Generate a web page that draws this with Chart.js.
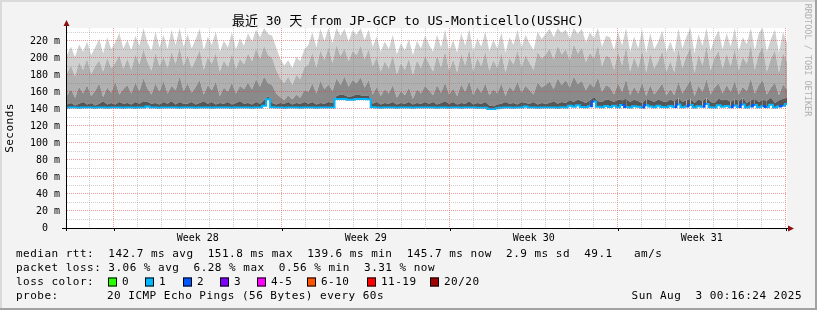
<!DOCTYPE html>
<html lang="zh">
<head>
<meta charset="UTF-8">
<title>SmokePing - JP-GCP to US-Monticello</title>
<script src="https://cdn.jsdelivr.net/npm/chart.js@4"></script>
<style>
  html, body { margin: 0; padding: 0; background: #f3f3f3; }
  canvas { display: block; }
</style>
</head>
<body>
<canvas id="smoke" width="817" height="310"></canvas>
<script>
// 30 days, one sample every 4 hours (ms)
const spanHours = 720;

const medianRtt = [
  141.4,141.6,141.5,141.3,141.6,141.5,141.7,141.4,141.5,141.6,141.4,141.5,141.6,141.5,141.4,
  141.5,141.6,141.4,141.5,141.7,142.8,141.6,141.5,141.4,141.6,141.5,141.5,141.7,141.4,141.5,
  141.6,141.5,141.4,141.5,141.6,141.5,141.4,141.7,141.5,141.5,141.6,141.4,141.5,141.6,141.5,
  141.5,141.4,141.6,141.5,143.5,151.2,142.0,141.5,141.6,141.4,141.5,141.6,141.5,141.4,141.5,
  141.5,141.6,141.4,141.5,141.5,141.6,141.5,151.6,151.5,151.6,150.6,150.7,151.5,151.6,151.5,
  151.4,141.8,141.5,141.4,141.5,141.6,141.5,141.4,141.6,141.5,141.5,141.4,141.6,141.5,141.5,
  141.5,141.6,141.4,141.5,141.5,141.4,141.6,141.5,141.4,141.5,141.6,141.5,141.4,141.3,141.2,
  139.8,139.7,140.6,141.3,141.5,141.6,141.4,141.5,141.7,142.8,141.6,141.5,141.4,141.6,141.5,
  141.5,141.6,141.4,141.8,141.5,143.6,142.4,144.1,142.2,141.8,143.2,148.5,142.6,141.9,143.4,
  142.1,143.5,141.8,144.6,142.3,141.7,143.1,142.5,141.6,144.2,142.8,141.9,143.7,142.2,141.8,
  143.4,142.1,145.2,141.8,142.9,144.5,141.6,143.2,142.4,145.6,142.0,141.7,144.1,142.6,143.3,
  141.9,143.8,142.3,145.1,141.6,142.7,144.4,141.8,143.0,142.2,144.9,141.7,142.8,143.6,145.7
];

// lost pings out of 20 for each sample
const lostPings = [
  1,1,1,1,1,1,1,1,1,1,1,1,1,1,1,
  1,1,1,1,1,1,1,1,1,1,1,1,1,1,1,
  1,1,1,1,1,1,1,1,1,1,1,1,1,1,1,
  1,1,1,1,1,1,1,1,1,1,1,1,1,1,1,
  1,1,1,1,1,1,1,1,1,1,1,1,1,1,1,
  1,1,1,1,1,1,1,1,1,1,1,1,1,1,1,
  1,1,1,1,1,1,1,1,1,1,1,1,1,1,1,
  1,1,1,1,1,1,1,1,1,1,1,1,1,1,1,
  1,1,1,1,1,1,1,1,1,1,1,2,1,1,1,
  1,1,1,1,2,1,1,1,1,2,1,1,1,1,1,
  1,1,2,1,1,2,1,1,1,2,1,1,1,1,1,
  1,2,1,2,1,1,2,1,1,2,1,1,1,2,1
];

// smoke: upper edge of each grey band (darkest to lightest)
const smokeCore = [
  145,147,144,146,148,145,147,144,146,149,145,147,145,148,146,
  147,145,148,146,149,148,146,147,145,148,146,149,145,148,146,
  146,148,145,147,149,146,148,145,147,146,148,145,147,149,146,
  147,145,148,146,150,155,147,145,147,146,148,145,147,146,148,
  146,148,145,147,146,148,147,155,157,156,154,155,157,156,155,
  156,146,148,145,147,146,148,145,147,146,148,145,147,146,148,
  146,148,145,147,149,146,148,145,147,146,149,145,147,146,148,
  144,143,145,146,148,146,147,145,148,147,146,148,145,147,146,
  147,149,146,148,147,150,148,151,149,147,150,154,149,148,151,
  150,148,151,150,152,148,151,149,147,152,150,148,151,149,148,
  151,149,153,148,150,152,147,151,149,153,148,147,152,150,151,
  148,152,149,153,147,150,152,148,151,149,153,147,150,152,153
];
const smokeDark = [
  156,163,153,166,158,168,155,161,170,154,165,159,172,157,163,
  168,158,171,161,176,164,157,170,160,173,158,167,162,178,161,
  170,159,166,174,157,168,162,172,155,165,160,171,158,167,163,
  171,163,175,166,178,170,168,158,154,150,156,151,157,153,162,
  160,170,158,173,163,169,161,176,168,178,166,174,170,177,165,
  174,157,166,155,163,158,168,153,161,156,165,152,163,158,167,
  162,156,168,159,171,157,164,155,169,160,173,156,166,159,170,
  156,163,158,170,155,166,161,172,159,167,162,157,171,165,168,
  172,163,176,168,174,165,178,169,173,162,170,165,177,160,168,
  165,157,170,160,175,156,166,158,171,155,168,157,163,170,156,
  163,156,172,158,166,174,155,167,160,175,157,165,170,158,168,
  160,173,157,166,161,176,158,168,174,157,165,171,156,169,163
];
const smokeMid = [
  182,191,178,195,186,199,181,190,197,184,200,188,194,203,187,
  199,186,204,192,210,195,185,206,190,201,188,207,193,212,191,
  203,188,198,209,186,201,193,206,184,197,189,205,187,199,192,
  205,196,211,199,214,203,200,186,176,170,178,168,180,175,189,
  192,206,189,209,197,212,194,215,202,211,196,208,203,214,198,
  210,190,201,184,196,187,203,181,194,186,199,180,197,188,202,
  193,184,203,189,208,185,198,183,205,191,210,184,200,190,207,
  185,197,188,206,183,200,192,209,189,203,194,186,207,199,204,
  211,198,214,204,210,197,216,205,212,195,206,199,215,190,203,
  200,186,207,191,213,184,201,188,209,183,205,187,196,208,184,
  196,183,210,188,202,212,182,204,191,214,185,200,208,187,205,
  190,211,185,201,193,215,186,205,212,184,199,209,183,206,195
];
const smokeTop = [
  204,213,201,216,207,219,203,212,222,205,224,210,218,229,211,
  221,209,226,214,235,218,208,231,212,227,210,233,215,235,213,
  228,211,222,234,209,225,215,231,207,220,212,230,210,223,214,
  229,219,233,224,235,228,226,212,199,191,197,188,201,196,210,
  215,230,212,234,220,235,217,235,226,234,219,232,227,235,221,
  233,213,225,207,219,210,227,204,217,209,222,203,220,211,226,
  216,207,227,212,233,208,221,206,229,214,234,207,223,213,231,
  208,221,211,230,206,224,215,233,212,227,217,209,231,222,228,
  234,224,235,229,233,222,235,228,234,218,230,223,235,213,226,
  224,209,231,214,235,207,225,211,233,206,229,210,219,232,207,
  219,206,234,211,225,235,205,228,214,235,208,223,232,210,229,
  213,235,208,224,216,235,209,229,235,207,222,233,206,230,218
];

const yTickValues = [0, 20, 40, 60, 80, 100, 120, 140, 160, 180, 200, 220];
const yTickLabels = ['0', '20 m', '40 m', '60 m', '80 m', '100 m', '120 m', '140 m', '160 m', '180 m', '200 m', '220 m'];
const weekLineHours = [46.8, 214.8, 382.8, 550.8, 718.8];
const weekLabels = ['Week 28', 'Week 29', 'Week 30', 'Week 31'];

const medianStats = ['142.7 ms avg', '151.8 ms max', '139.6 ms min', '145.7 ms now', '2.9 ms sd', '49.1   am/s'];
const lossStats = ['3.06 % avg', '6.28 % max', '0.56 % min', '3.31 % now'];
const lossLabels = ['0', '1', '2', '3', '4-5', '6-10', '11-19', '20/20'];
const lossColors = ['#26ff00', '#00b8ff', '#0059ff', '#7e00ff', '#ff00ff', '#ff5500', '#ff0000', '#a10000'];

const titleText = '最近 30 天 from JP-GCP to US-Monticello(USSHC)';
const probeText = '20 ICMP Echo Pings (56 Bytes) every 60s';
const stampText = 'Sun Aug  3 00:16:24 2025';

function lossSlot(n) {
  if (n <= 3) return n;
  if (n <= 5) return 4;
  if (n <= 10) return 5;
  if (n <= 19) return 6;
  return 7;
}

function series(vals) {
  return vals.map((v, i) => ({ x: i * spanHours / (vals.length - 1), y: v }));
}

function band(vals, color) {
  return {
    data: series(vals),
    fill: '-1',
    backgroundColor: color,
    borderColor: 'rgba(0,0,0,0)',
    borderWidth: 0,
    pointRadius: 0,
    tension: 0
  };
}

const MONO = "'DejaVu Sans Mono', 'Noto Sans CJK SC', monospace";

const frame = {
  id: 'frame',
  beforeDraw(chart) {
    const c = chart.ctx, a = chart.chartArea;
    const W = chart.width, H = chart.height;
    c.save();
    c.fillStyle = '#f3f3f3';
    c.fillRect(0, 0, W, H);
    c.fillStyle = '#dadada';
    c.fillRect(0, 0, W, 2);
    c.fillRect(0, 0, 2, H);
    c.fillStyle = '#a2a2a2';
    c.fillRect(0, H - 2, W, 2);
    c.fillRect(W - 2, 0, 2, H);
    c.fillStyle = '#ffffff';
    c.fillRect(a.left, a.top, a.right - a.left, a.bottom - a.top);
    c.restore();
  },
  afterDraw(chart) {
    const c = chart.ctx, a = chart.chartArea;
    const xs = chart.scales.x, ys = chart.scales.y;
    c.save();

    // axes
    c.strokeStyle = '#000';
    c.lineWidth = 1;
    c.beginPath();
    c.moveTo(a.left - 0.5, a.bottom + 3);
    c.lineTo(a.left - 0.5, a.top - 3);
    c.moveTo(a.left - 5, a.bottom + 0.5);
    c.lineTo(a.right + 2, a.bottom + 0.5);
    weekLineHours.forEach(h => {
      const px = Math.round(xs.getPixelForValue(h)) + 0.5;
      c.moveTo(px, a.bottom);
      c.lineTo(px, a.bottom + 3);
    });
    c.stroke();
    c.fillStyle = '#8c1010';
    c.beginPath();
    c.moveTo(a.left - 3.5, a.top - 2);
    c.lineTo(a.left + 2.5, a.top - 2);
    c.lineTo(a.left - 0.5, a.top - 8);
    c.closePath();
    c.fill();
    c.beginPath();
    c.moveTo(a.right + 1, a.bottom - 2.5);
    c.lineTo(a.right + 1, a.bottom + 3.5);
    c.lineTo(a.right + 7, a.bottom + 0.5);
    c.closePath();
    c.fill();

    // title
    c.fillStyle = '#000';
    c.textBaseline = 'middle';
    c.textAlign = 'center';
    c.font = '13px ' + MONO;
    c.fillText(titleText, 408, 21.5);

    // y labels
    c.font = '10px ' + MONO;
    c.textAlign = 'right';
    yTickValues.forEach((v, i) => {
      const lab = yTickLabels[i].indexOf(' ') < 0 ? yTickLabels[i] + '  ' : yTickLabels[i];
      c.fillText(lab, 60, ys.getPixelForValue(v) + 0.5);
    });

    // week labels
    c.textAlign = 'center';
    weekLabels.forEach((w, i) => {
      const mid = (weekLineHours[i] + weekLineHours[i + 1]) / 2;
      c.fillText(w, xs.getPixelForValue(mid), 238);
    });

    // legend
    c.font = '11px ' + MONO;
    c.letterSpacing = '0.48px';
    c.textAlign = 'left';
    c.fillText('median rtt:  ' + medianStats.join('  '), 16, 254);
    c.fillText('packet loss: ' + lossStats.join('  '), 16, 268);
    c.fillText('loss color:', 16, 282);
    const boxX = [108, 145, 183, 220, 257, 307, 367, 430];
    lossLabels.forEach((lab, i) => {
      c.fillStyle = lossColors[i];
      c.fillRect(boxX[i], 277.5, 9, 9);
      c.strokeStyle = '#000';
      c.strokeRect(boxX[i] + 0.5, 277.5 + 0.5, 8, 8);
      c.fillStyle = '#000';
      c.fillText(lab, boxX[i] + 14, 282);
    });
    c.fillText('probe:', 16, 296);
    c.fillText(probeText, 107, 296);
    c.textAlign = 'right';
    c.fillText(stampText, 802, 296);

    // rotated texts
    c.save();
    c.translate(10, 128);
    c.rotate(-Math.PI / 2);
    c.textAlign = 'center';
    c.fillText('Seconds', 0, 0);
    c.restore();

    c.save();
    c.translate(807, 60);
    c.rotate(Math.PI / 2);
    c.textAlign = 'center';
    c.letterSpacing = '0px';
    c.font = '8.5px ' + MONO;
    c.fillStyle = '#b0b0b0';
    c.fillText('RRDTOOL / TOBI OETIKER', 0, 0);
    c.restore();

    c.restore();
  }
};

const redGrid = 'rgba(220,60,60,0.5)';
const greyGrid = 'rgba(120,120,120,0.35)';

new Chart(document.getElementById('smoke'), {
  type: 'line',
  data: {
    datasets: [
      {
        data: series(medianRtt),
        fill: false,
        stepped: 'middle',
        borderWidth: 2,
        borderColor: lossColors[1],
        pointRadius: 0,
        segment: {
          borderColor: ctx => lossColors[lossSlot(lostPings[ctx.p1DataIndex])]
        }
      },
      band(smokeCore, '#555555'),
      band(smokeDark, '#8a8a8a'),
      band(smokeMid, '#b0b0b0'),
      band(smokeTop, '#d0d0d0')
    ]
  },
  options: {
    responsive: false,
    animation: false,
    events: [],
    layout: { padding: { left: 67, right: 30, top: 28, bottom: 82 } },
    scales: {
      x: {
        type: 'linear',
        min: 0,
        max: spanHours,
        ticks: { display: false },
        border: { display: false, dash: [1, 1] },
        afterBuildTicks: s => {
          const t = [];
          for (let h = weekLineHours[0] - 24; h <= spanHours; h += 24) {
            t.push({ value: h, major: weekLineHours.some(w => Math.abs(w - h) < 0.01) });
          }
          s.ticks = t;
        },
        grid: {
          z: 1,
          drawTicks: false,
          lineWidth: 1,
          color: c => (c.tick && c.tick.major) ? redGrid : greyGrid
        }
      },
      y: {
        min: 0,
        max: 235,
        ticks: { display: false },
        border: { display: false, dash: [1, 1] },
        afterBuildTicks: s => {
          const t = [];
          for (let v = 10; v <= 230; v += 10) t.push({ value: v });
          s.ticks = t;
        },
        grid: {
          z: 1,
          drawTicks: false,
          lineWidth: 1,
          color: c => (c.tick && yTickValues.includes(c.tick.value)) ? redGrid : greyGrid
        }
      }
    },
    plugins: {
      legend: { display: false },
      tooltip: { enabled: false }
    }
  },
  plugins: [frame]
});
</script>
</body>
</html>
